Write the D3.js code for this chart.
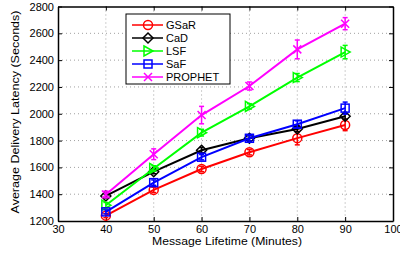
<!DOCTYPE html>
<html>
<head>
<meta charset="utf-8">
<script src="https://cdn.jsdelivr.net/npm/d3@7"></script>
<style>
  body { margin: 0; background: #fff; }
  text { font-family: "Liberation Sans", Arial, sans-serif; }
</style>
</head>
<body>
<div id="chart"></div>
<script>
(function () {

  // data
  var lifetimes = [40, 50, 60, 70, 80, 90];
  var xTicks = [30, 40, 50, 60, 70, 80, 90, 100];
  var yTicks = [1200, 1400, 1600, 1800, 2000, 2200, 2400, 2600, 2800];

  var seriesNames = ["GSaR", "CaD", "LSF", "SaF", "PROPHET"];
  var gsarValues = [1240, 1432, 1588, 1713, 1818, 1916];
  var cadValues = [1387, 1568, 1728, 1817, 1886, 1982];
  var lsfValues = [1318, 1592, 1859, 2055, 2270, 2460];
  var safValues = [1268, 1486, 1676, 1817, 1922, 2042];
  var prophetValues = [1398, 1698, 1990, 2207, 2480, 2672];

  var gsarErr = [15, 20, 20, 20, 50, 42];
  var cadErr = [15, 15, 20, 20, 20, 22];
  var lsfErr = [20, 20, 25, 20, 30, 50];
  var safErr = [15, 20, 20, 20, 25, 45];
  var prophetErr = [25, 40, 65, 30, 70, 45];

  var colors = ["#ff0000", "#000000", "#00ff00", "#0000ff", "#ff00ff"];
  var symbols = ["circle", "diamond", "triangle", "square", "cross"];

  var allValues = [gsarValues, cadValues, lsfValues, safValues, prophetValues];
  var allErr = [gsarErr, cadErr, lsfErr, safErr, prophetErr];

  var width = 400, height = 253;
  var left = 58, right = 393, top = 6.5, bottom = 221;

  var svg = d3.select("#chart").append("svg")
    .attr("width", width)
    .attr("height", height);

  var x = d3.scaleLinear().domain([30, 100]).range([left, right]);
  var y = d3.scaleLinear().domain([1200, 2800]).range([bottom, top]);

  // grid
  svg.append("g").selectAll("line")
    .data(xTicks.slice(1, -1))
    .enter().append("line")
      .attr("x1", function (d) { return x(d); })
      .attr("x2", function (d) { return x(d); })
      .attr("y1", top).attr("y2", bottom)
      .attr("stroke", "#a0a0a0")
      .attr("stroke-width", 1)
      .attr("stroke-dasharray", "1,3");

  svg.append("g").selectAll("line")
    .data(yTicks.slice(1, -1))
    .enter().append("line")
      .attr("y1", function (d) { return y(d); })
      .attr("y2", function (d) { return y(d); })
      .attr("x1", left).attr("x2", right)
      .attr("stroke", "#a0a0a0")
      .attr("stroke-width", 1)
      .attr("stroke-dasharray", "1,3");

  // axes, ticks inside like matlab
  var xAxis = d3.axisBottom(x).tickValues(xTicks).tickSizeInner(-4).tickSizeOuter(0).tickPadding(4).tickFormat(d3.format("d"));
  var yAxis = d3.axisLeft(y).tickValues(yTicks).tickSizeInner(-4).tickSizeOuter(0).tickPadding(4).tickFormat(d3.format("d"));
  var xTop = d3.axisTop(x).tickValues(xTicks).tickSizeInner(-4).tickSizeOuter(0).tickFormat("");
  var yRight = d3.axisRight(y).tickValues(yTicks).tickSizeInner(-4).tickSizeOuter(0).tickFormat("");

  function styleAxis(g) {
    g.selectAll("path").attr("stroke", "#000").attr("stroke-width", 1.5);
    g.selectAll("line").attr("stroke", "#000");
    g.selectAll("text").attr("fill", "#000").style("font-size", "11px")
      .style("font-family", "Liberation Sans, Arial, sans-serif");
  }

  svg.append("g").attr("transform", "translate(0," + bottom + ")").call(xAxis).call(styleAxis);
  svg.append("g").attr("transform", "translate(" + left + ",0)").call(yAxis).call(styleAxis);
  svg.append("g").attr("transform", "translate(0," + top + ")").call(xTop).call(styleAxis);
  svg.append("g").attr("transform", "translate(" + right + ",0)").call(yRight).call(styleAxis);

  // axis labels
  svg.append("text")
    .attr("x", 227)
    .attr("y", 245)
    .attr("text-anchor", "middle")
    .attr("textLength", 150)
    .attr("lengthAdjust", "spacingAndGlyphs")
    .style("font-size", "10.5px")
    .text("Message Lifetime (Minutes)");

  svg.append("text")
    .attr("transform", "translate(19,112) rotate(-90)")
    .attr("text-anchor", "middle")
    .attr("textLength", 203)
    .attr("lengthAdjust", "spacingAndGlyphs")
    .style("font-size", "10.5px")
    .text("Average Delivery Latency (Seconds)");

  function marker(g, sym, color) {
    if (sym == "circle") {
      g.append("circle").attr("r", 4.5).attr("fill", "none").attr("stroke", color).attr("stroke-width", 1.5);
    } else if (sym == "diamond") {
      g.append("path").attr("d", "M0,-5L5,0L0,5L-5,0Z").attr("fill", "none").attr("stroke", color).attr("stroke-width", 1.5);
    } else if (sym == "triangle") {
      g.append("path").attr("d", "M-4,-5L5,0L-4,5Z").attr("fill", "none").attr("stroke", color).attr("stroke-width", 1.5);
    } else if (sym == "square") {
      g.append("rect").attr("x", -4).attr("y", -4).attr("width", 8).attr("height", 8)
        .attr("fill", "none").attr("stroke", color).attr("stroke-width", 1.5);
    } else {
      g.append("path").attr("d", "M-4,-4L4,4M-4,4L4,-4").attr("fill", "none").attr("stroke", color).attr("stroke-width", 1.5);
    }
  }

  var line = d3.line()
    .x(function (d) { return x(d[0]); })
    .y(function (d) { return y(d[1]); });

  seriesNames.forEach(function (name, s) {
    var pts = lifetimes.map(function (t, i) { return [t, allValues[s][i], allErr[s][i]]; });
    var color = colors[s];
    var g = svg.append("g");

    g.append("path")
      .datum(pts)
      .attr("d", line)
      .attr("fill", "none")
      .attr("stroke", color)
      .attr("stroke-width", 2);

    pts.forEach(function (p) {
      var cx = x(p[0]);
      var y1 = y(p[1] - p[2]), y2 = y(p[1] + p[2]);
      g.append("line").attr("x1", cx).attr("x2", cx).attr("y1", y1).attr("y2", y2)
        .attr("stroke", color).attr("stroke-width", 1.5);
      g.append("line").attr("x1", cx - 2.5).attr("x2", cx + 2.5).attr("y1", y1).attr("y2", y1)
        .attr("stroke", color).attr("stroke-width", 1.5);
      g.append("line").attr("x1", cx - 2.5).attr("x2", cx + 2.5).attr("y1", y2).attr("y2", y2)
        .attr("stroke", color).attr("stroke-width", 1.5);
      var m = g.append("g").attr("transform", "translate(" + cx + "," + y(p[1]) + ")");
      marker(m, symbols[s], color);
    });
  });

  // legend
  var legend = svg.append("g");
  legend.append("rect")
    .attr("x", 126).attr("y", 14)
    .attr("width", 104).attr("height", 70)
    .attr("fill", "#fff")
    .attr("stroke", "#000")
    .attr("stroke-width", 1);

  seriesNames.forEach(function (name, s) {
    var ly = 25 + s * 13;
    legend.append("line").attr("x1", 132).attr("x2", 163).attr("y1", ly).attr("y2", ly)
      .attr("stroke", colors[s]).attr("stroke-width", 1.5);
    var m = legend.append("g").attr("transform", "translate(148," + ly + ")");
    marker(m, symbols[s], colors[s]);
    legend.append("text")
      .attr("x", 166).attr("y", ly + 4)
      .style("font-size", "11px")
      .text(name);
  });

})();
</script>
</body>
</html>
